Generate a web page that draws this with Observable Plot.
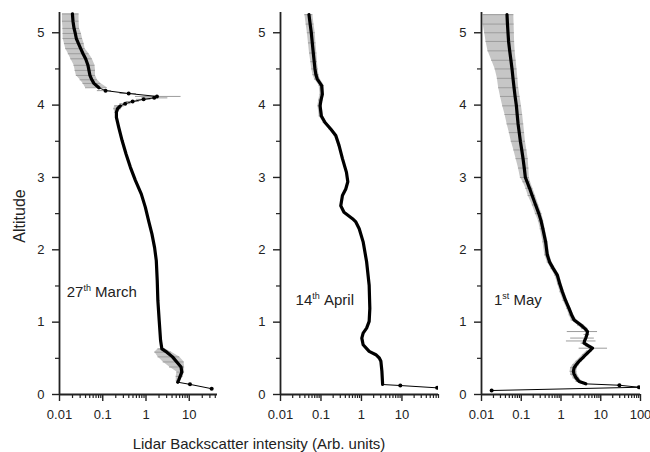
<!DOCTYPE html>
<html>
<head>
<meta charset="utf-8">
<script src="https://cdn.jsdelivr.net/npm/d3@7"></script>
<script src="https://cdn.jsdelivr.net/npm/@observablehq/plot@0.6"></script>
<style>
  body { margin: 0; background: #fff; }
  #wrap { position: relative; width: 650px; height: 452px; overflow: hidden;
          font-family: "Liberation Sans", Arial, Helvetica, sans-serif; color: #222; }
  .panel { position: absolute; top: 0; }
  #ylab { position: absolute; left: 20px; top: 216px; transform: translate(-50%, -50%) rotate(-90deg);
          font-size: 16px; white-space: nowrap; }
  #xlab { position: absolute; left: 259px; top: 443px; transform: translate(-50%, -50%);
          font-size: 15px; white-space: nowrap; }
</style>
</head>
<body>
<div id="wrap">
  <div id="ylab">Altitude</div>
  <div id="xlab">Lidar Backscatter intensity (Arb. units)</div>
</div>
<script>
// ---------- Panel 1: 27th March ----------
const alt1 = [5.26, 5.16, 5.06, 4.99, 4.92, 4.85, 4.78, 4.71, 4.64, 4.55, 4.48, 4.41, 4.35, 4.30, 4.24,
  4.20, 4.16, 4.12, 4.10, 4.08, 4.05, 4.02,
  3.99, 3.95, 3.90, 3.83, 3.69, 3.51, 3.32, 3.14, 2.96, 2.77, 2.59, 2.40, 2.22, 2.03, 1.85, 1.57, 1.30, 1.02, 0.75,
  0.63, 0.585, 0.52, 0.45, 0.38, 0.31, 0.25, 0.19, 0.17, 0.14, 0.08];
const val1 = [0.0199, 0.0205, 0.0217, 0.0232, 0.0245, 0.0275, 0.0309, 0.035, 0.0402, 0.0455, 0.048, 0.0506, 0.056, 0.0625, 0.0815,
  0.116, 0.398, 1.79, 1.55, 0.88, 0.49, 0.33,
  0.255, 0.22, 0.207, 0.207, 0.235, 0.28, 0.347, 0.436, 0.568, 0.78, 0.964, 1.15, 1.37, 1.58, 1.73, 1.82, 1.88, 2.02, 2.17,
  2.33, 3.03, 4.1, 5.15, 6.47, 6.71, 6.15, 5.63, 5.4, 10.4, 33];
const lo1 = [0.0117, 0.0117, 0.012, 0.0121, 0.0121, 0.013, 0.0139, 0.016, 0.0182, 0.0217, 0.023, 0.0245, 0.03, 0.035, 0.04,
  0.075, 0.25, 0.57, 0.8, 0.6, 0.35, 0.25,
  0.19, 0.18, 0.19, null, null, null, null, null, null, null, null, null, null, null, null, null, null, null, null,
  1.9, 1.6, 1.9, 2.5, 3.5, 5.2, 5.0, 5.0, null, 9.5, 30];
const hi1 = [0.0283, 0.0283, 0.029, 0.032, 0.034, 0.037, 0.039, 0.048, 0.057, 0.066, 0.068, 0.068, 0.075, 0.09, 0.127,
  0.16, 0.6, 6.46, 3.2, 1.3, 0.7, 0.45,
  0.32, 0.27, 0.23, null, null, null, null, null, null, null, null, null, null, null, null, null, null, null, null,
  2.8, 3.9, 6.0, 7.6, 7.8, 7.8, 7.2, 6.3, null, 11.5, 37];
const kind1 = [0,0,0,0,0,0,0,0,0,0,0,0,0,0,0,
  1,1,1,1,1,1,1,
  0,0,0,0,0,0,0,0,0,0,0,0,0,0,0,0,0,0,0,
  0,0,0,0,0,0,0,0,0,1,1];

// ---------- Panel 2: 14th April ----------
const alt2 = [5.25, 5.12, 5.0, 4.86, 4.72, 4.6, 4.5, 4.42, 4.36, 4.27, 4.15, 4.07, 3.99, 3.85, 3.76, 3.67, 3.58, 3.44,
  3.26, 3.07, 2.94, 2.84, 2.75, 2.61, 2.52, 2.43, 2.385, 2.29, 2.11, 1.835, 1.51, 1.19, 1.01, 0.917, 0.849, 0.78,
  0.688, 0.596, 0.55, 0.505, 0.459, 0.32, 0.183, 0.138, 0.124, 0.092];
const val2 = [0.0505, 0.054, 0.0577, 0.061, 0.0646, 0.068, 0.071, 0.075, 0.081, 0.104, 0.108, 0.1, 0.095, 0.102, 0.126, 0.174, 0.232, 0.28,
  0.339, 0.426, 0.46, 0.41, 0.339, 0.308, 0.37, 0.6, 0.726, 0.88, 1.10, 1.34, 1.55, 1.61, 1.55, 1.34, 1.10, 1.02,
  1.10, 1.55, 2.27, 2.76, 3.02, 3.2, 3.3, 3.33, 9.1, 74];
const lo2 = [0.040, 0.043, 0.046, 0.049, 0.052, 0.056, 0.059, 0.063, 0.069, 0.09, 0.095, 0.088, 0.084, 0.09, 0.113, 0.157, 0.212, 0.26,
  null, null, null, null, null, null, null, null, null, null, null, null, null, null, null, null, null, null,
  null, null, null, null, null, null, null, null, 8.2, 70];
const hi2 = [0.063, 0.067, 0.072, 0.075, 0.079, 0.082, 0.085, 0.089, 0.095, 0.12, 0.122, 0.113, 0.107, 0.115, 0.14, 0.19, 0.252, 0.3,
  null, null, null, null, null, null, null, null, null, null, null, null, null, null, null, null, null, null,
  null, null, null, null, null, null, null, null, 10, 78];
const kind2 = [0,0,0,0,0,0,0,0,0,0,0,0,0,0,0,0,0,0,
  0,0,0,0,0,0,0,0,0,0,0,0,0,0,0,0,0,0,
  0,0,0,0,0,0,0,0,1,1];

// ---------- Panel 3: 1st May ----------
const alt3 = [5.25, 5.12, 5.0, 4.88, 4.75, 4.62, 4.5, 4.37, 4.24, 4.12, 3.99, 3.87, 3.74, 3.62, 3.5, 3.38, 3.26, 3.13, 3.0, 2.94,
  2.85, 2.75, 2.62, 2.5, 2.4, 2.29, 2.11, 1.93, 1.83, 1.74, 1.65, 1.53, 1.42, 1.3, 1.19, 1.1, 1.03, 0.96, 0.91, 0.87,
  0.83, 0.78, 0.74, 0.71, 0.67, 0.64, 0.6, 0.55, 0.5, 0.46, 0.41, 0.37, 0.32, 0.28, 0.23, 0.18, 0.147, 0.128, 0.10, 0.055];
const val3 = [0.0438, 0.045, 0.0464, 0.048, 0.0512, 0.055, 0.0586, 0.062, 0.0659, 0.07, 0.0755, 0.079, 0.0832, 0.089, 0.095, 0.103, 0.111, 0.119, 0.127, 0.14,
  0.162, 0.188, 0.23, 0.277, 0.315, 0.35, 0.41, 0.451, 0.517, 0.64, 0.807, 0.93, 1.08, 1.3, 1.59, 1.85, 2.14, 3.15, 4.0, 4.64,
  4.5, 4.2, 3.9, 3.8, 5.0, 6.2, 5.2, 4.2, 3.4, 2.86, 2.4, 2.14, 2.05, 2.14, 2.4, 2.86, 4.2, 29.5, 91, 0.018];
const lo3 = [0.011, 0.011, 0.012, 0.013, 0.0145, 0.018, 0.022, 0.025, 0.027, 0.03, 0.034, 0.039, 0.044, 0.05, 0.056, 0.065, 0.074, 0.085, 0.095, 0.11,
  0.13, 0.149, 0.19, 0.227, 0.27, 0.3, 0.35, 0.39, 0.45, 0.56, 0.7, 0.82, 0.94, 1.13, 1.4, 1.6, 1.8, 2.6, 3.3, 1.44,
  3.8, 1.75, 1.37, 3.2, 4.2, 2.86, 4.4, 3.5, 2.9, 2.4, 2.0, 1.75, 1.7, 1.75, 2.0, 2.4, null, 26, 85, null];
const hi3 = [0.065, 0.066, 0.067, 0.068, 0.07, 0.074, 0.078, 0.082, 0.086, 0.093, 0.101, 0.108, 0.115, 0.121, 0.127, 0.138, 0.149, 0.155, 0.16, 0.17,
  0.195, 0.228, 0.275, 0.33, 0.365, 0.4, 0.47, 0.52, 0.59, 0.73, 0.92, 1.06, 1.23, 1.48, 1.8, 2.1, 2.5, 3.8, 4.8, 8.3,
  5.3, 6.9, 7.6, 4.5, 6.0, 14.8, 6.1, 5.0, 4.0, 3.4, 2.9, 2.6, 2.5, 2.6, 2.9, 3.4, null, 33, 97, null];
const kind3 = [0,0,0,0,0,0,0,0,0,0,0,0,0,0,0,0,0,0,0,0,
  0,0,0,0,0,0,0,0,0,0,0,0,0,0,0,0,0,0,0,2,
  0,2,2,0,0,2,0,0,0,0,0,0,0,0,0,0,0,1,1,1];

// ---------- Labels and ticks ----------
const dayNum = ["27", "14", "1"];
const daySuffix = ["th", "th", "st"];
const monthName = ["March", "April", "May"];
const xMax = [45, 80, 100];
const majorX = [0.01, 0.1, 1, 10, 100];
const minorMult = [2, 3, 4, 5, 6, 7, 8, 9];
const majorY = [0, 1, 2, 3, 4, 5];
const minorY = [0.5, 1.5, 2.5, 3.5, 4.5];

const layout = [
  {left: 9, plotW: 158, mr: 6, lx: 0.0147, ly: 1.41},
  {left: 230, plotW: 158, mr: 6, lx: 0.0236, ly: 1.30},
  {left: 431, plotW: 159, mr: 10, lx: 0.0205, ly: 1.31}
];
const series = [
  {alt: alt1, val: val1, lo: lo1, hi: hi1, kind: kind1},
  {alt: alt2, val: val2, lo: lo2, hi: hi2, kind: kind2},
  {alt: alt3, val: val3, lo: lo3, hi: hi3, kind: kind3}
];

const wrap = document.getElementById("wrap");
const ML = 50, MT = 12, H = 430, MB = 36, YMAX = 5.28;

series.forEach((s, p) => {
  const L = layout[p];
  const xmax = xMax[p];
  const data = s.alt.map((a, i) => ({alt: a, val: s.val[i], lo: s.lo[i], hi: s.hi[i], kind: s.kind[i]}));
  const bars = data.filter(d => d.lo != null && d.hi != null);
  const sparse = data.filter(d => d.kind === 1);
  const majors = majorX.filter(v => v >= 0.01 && v <= xmax);
  const minors = [];
  majorX.forEach(m => minorMult.forEach(k => { const v = m * k; if (v > 0.01 && v <= xmax) minors.push(v); }));
  const lab = [{x: L.lx, y: L.ly, num: dayNum[p], suf: daySuffix[p], mon: monthName[p]}];

  const chart = Plot.plot({
    width: ML + L.plotW + L.mr,
    height: H,
    marginLeft: ML, marginRight: L.mr, marginTop: MT, marginBottom: MB,
    style: {fontFamily: '"Liberation Sans", Arial, Helvetica, sans-serif', fontSize: "13px", color: "#222", background: "transparent", overflow: "visible"},
    x: {type: "log", domain: [0.01, xmax], label: null},
    y: {domain: [0, YMAX], label: null},
    marks: [
      Plot.areaX(data, {
        y: "alt",
        x1: d => (d.kind === 0 && d.lo != null) ? d.lo : NaN,
        x2: d => (d.kind === 0 && d.hi != null) ? d.hi : NaN,
        fill: "#c6c6c6", clip: true
      }),
      Plot.ruleY(bars, {y: "alt", x1: "lo", x2: "hi", stroke: "#9c9c9c", strokeWidth: 1, clip: true}),
      Plot.line(data, {x: "val", y: "alt", stroke: "#000", strokeWidth: 1, clip: true}),
      Plot.line(data, {x: d => d.kind === 1 ? NaN : d.val, y: "alt", stroke: "#000", strokeWidth: 3.2,
        strokeLinejoin: "round", strokeLinecap: "round", clip: true}),
      Plot.dot(sparse, {x: "val", y: "alt", r: 2, fill: "#000", clip: true}),
      Plot.ruleX([0.01], {y1: 0, y2: YMAX, stroke: "#222", strokeWidth: 1.8}),
      Plot.ruleY([0], {x1: 0.01, x2: xmax, stroke: "#222", strokeWidth: 1.8}),
      Plot.axisX(majors, {tickSize: 7, tickPadding: 8, strokeWidth: 1.4, stroke: "#222", fill: "#222",
        tickFormat: d => String(d), fontSize: 13}),
      Plot.axisX(minors, {tickSize: 4, strokeWidth: 1.2, stroke: "#222", tickFormat: () => ""}),
      Plot.axisY(majorY, {tickSize: 7, tickPadding: 8, strokeWidth: 1.4, stroke: "#222", fill: "#222", fontSize: 13,
        tickFormat: d => String(d)}),
      Plot.axisY(minorY, {tickSize: 4, strokeWidth: 1.2, stroke: "#222", tickFormat: () => ""}),
      Plot.text(lab, {x: "x", y: "y", text: d => d.num + d.suf + " " + d.mon, textAnchor: "start",
        fontSize: 15, fill: "#222"})
    ]
  });
  chart.classList.add("panel");
  chart.style.left = L.left + "px";
  chart.style.position = "absolute";
  chart.style.top = "0px";

  // superscript ordinal suffix in the date label
  const g = chart.querySelector('g[aria-label="text"]');
  if (g) {
    g.querySelectorAll("text").forEach(t => {
      t.textContent = "";
      const ns = "http://www.w3.org/2000/svg";
      const a = document.createElementNS(ns, "tspan"); a.textContent = lab[0].num; t.appendChild(a);
      const b = document.createElementNS(ns, "tspan"); b.textContent = lab[0].suf;
      b.setAttribute("font-size", "9"); b.setAttribute("dy", "-6"); t.appendChild(b);
      const c = document.createElementNS(ns, "tspan"); c.textContent = "\u00a0" + lab[0].mon;
      c.setAttribute("font-size", "15"); c.setAttribute("dy", "6"); t.appendChild(c);
    });
  }
  wrap.appendChild(chart);
});
</script>
</body>
</html>
